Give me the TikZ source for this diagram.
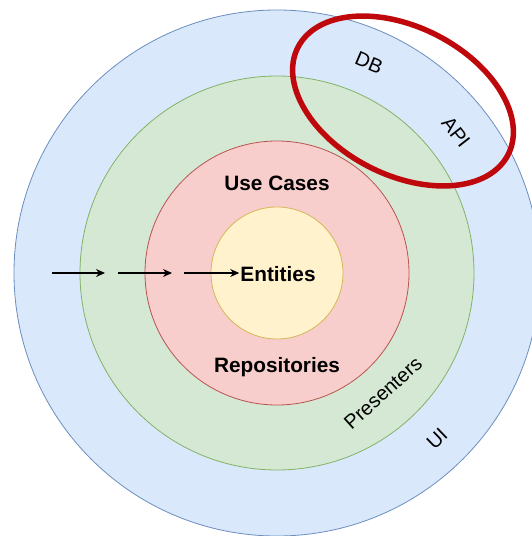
\documentclass[tikz,border=0pt]{standalone}
\usepackage{fontspec}
\setmainfont{Liberation Sans}
\usetikzlibrary{arrows.meta}
\definecolor{blueF}{HTML}{DAE8FC}
\definecolor{blueD}{HTML}{6C8EBF}
\definecolor{greenF}{HTML}{D5E8D4}
\definecolor{greenD}{HTML}{82B366}
\definecolor{redF}{HTML}{F8CECC}
\definecolor{redD}{HTML}{B85450}
\definecolor{yelF}{HTML}{FFF2CC}
\definecolor{yelD}{HTML}{D6B656}
\definecolor{markred}{RGB}{190,8,12}
\tikzset{
  ring/.style={circle, inner sep=0pt, line width=0.8pt},
  inlabel/.style={font=\fontsize{20.8}{24}\selectfont\bfseries, inner sep=1pt},
  ringlabel/.style={font=\fontsize{20}{24}\selectfont, inner sep=1pt},
  flow/.style={-{Stealth[length=9pt,width=8pt]}, line width=1.3pt, black}
}
\begin{document}
\begin{tikzpicture}[x=1pt,y=-1pt]
\useasboundingbox (0,0) rectangle (532,536);
\clip (0,0) rectangle (532,536);
\fill[white] (0,0) rectangle (532,536);
\node[ring, draw=blueD, fill=blueF, minimum size=526pt] (ui) at (277,273) {};
\node[ring, draw=greenD, fill=greenF, minimum size=394pt] (pres) at (277,273) {};
\node[ring, draw=redD, fill=redF, minimum size=264pt] (uc) at (277,273) {};
\node[ring, draw=yelD, fill=yelF, minimum size=132pt] (ent) at (277,273) {};

\node[inlabel] (usecases) at (277,183) {Use Cases};
\node[inlabel] (entities) at (278,274) {Entities};
\node[inlabel] (repos) at (277,367) {Repositories};

\node[ringlabel, rotate=-23] (db) at (369,63) {DB};
\node[ringlabel, rotate=-52] (api) at (456,132) {API};
\node[ringlabel, rotate=42] (presenters) at (383,393) {Presenters};
\node[ringlabel, rotate=44] (uilab) at (437,439) {UI};

\coordinate (a1s) at (52,273);
\coordinate (a1e) at (105,273);
\coordinate (a2s) at (118,273);
\coordinate (a2e) at (172,273);
\coordinate (a3s) at (184,273);
\draw[flow] (a1s) -- (a1e);
\draw[flow] (a2s) -- (a2e);
\draw[flow] (a3s) -- (entities.west |- a3s);

\draw[draw=markred, line width=5.5pt, rotate around={-27:(403,101)}] (403,101) ellipse [x radius=118, y radius=74];
\end{tikzpicture}
\end{document}
